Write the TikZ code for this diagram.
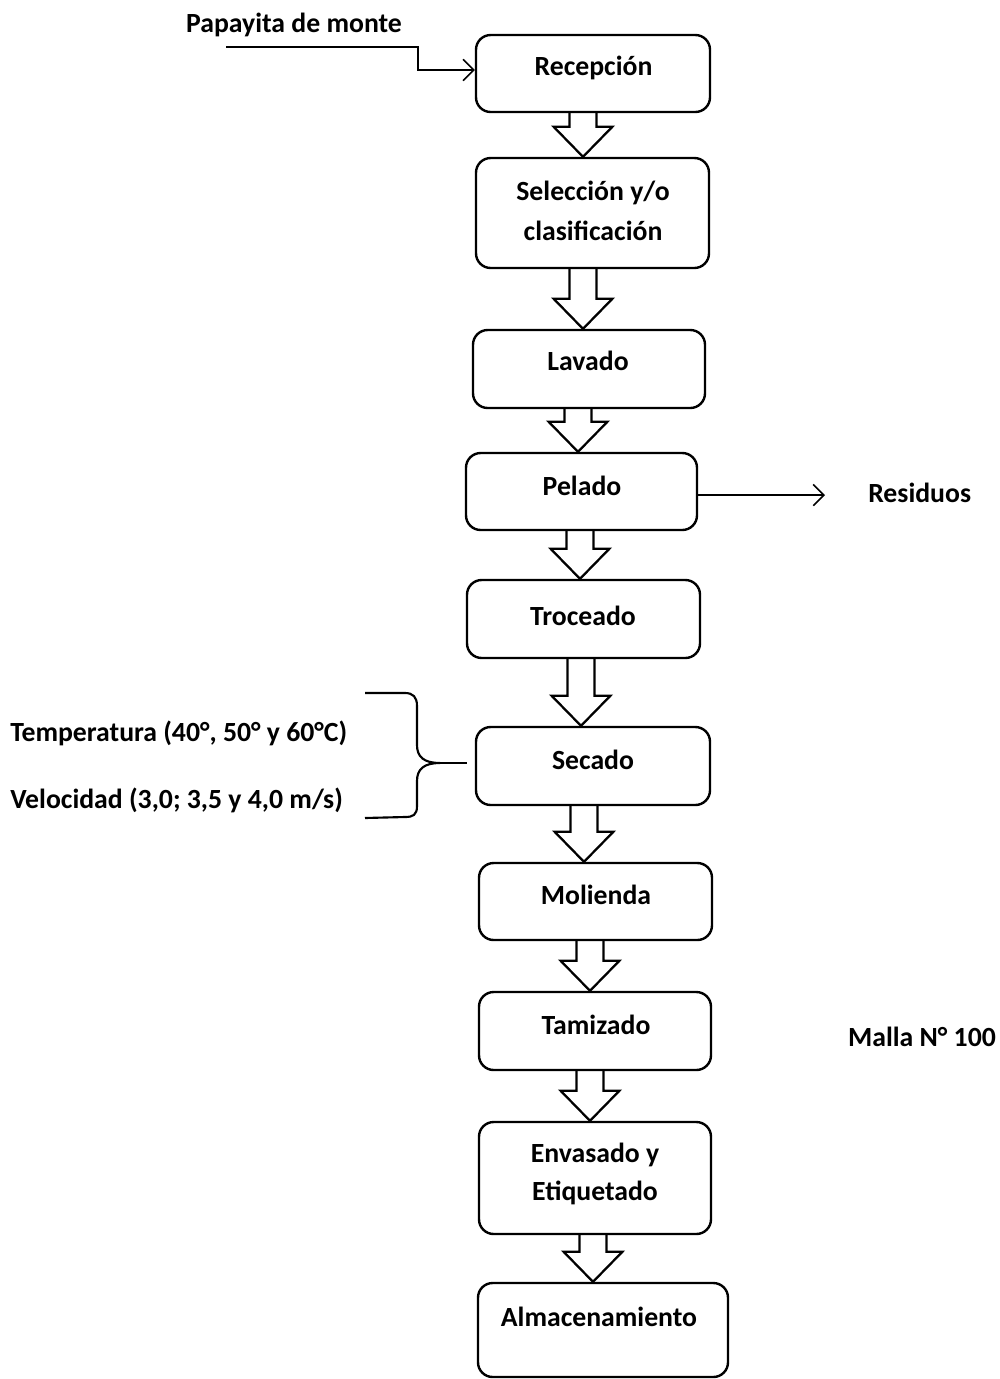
\documentclass[tikz,border=0pt]{standalone}
\usepackage{fontspec}
\setmainfont{Carlito}
\usetikzlibrary{arrows.meta,calc}
\tikzset{
  box/.style={draw, line width=1.8pt, rounded corners=11pt, inner sep=0pt},
  lbl/.style={font=\fontsize{20.8pt}{30pt}\selectfont\bfseries, align=center, inner sep=0pt},
  thinarr/.style={line width=1.2pt, -{Straight Barb[length=8pt,width=16pt,line width=1.2pt]}},
  blockarr/.style={line width=1.7pt, line join=miter},
  bracestyle/.style={line width=1.6pt}
}
\newcommand\procbox[5]{\node[box, minimum width=#4*0.75pt, minimum height=#5*0.75pt] (#1) at (#2,#3) {};}
\newcommand\flowarrow[3]{\draw[blockarr] let \p1=(#1.south), \p2=(#2.north), \p3=(#3,0) in
  (\x3-10.2pt,\y1) -- (\x3-10.2pt,\y2+22.5pt) -- (\x3-22pt,\y2+22.5pt) -- (\x3,\y2)
  -- (\x3+22pt,\y2+22.5pt) -- (\x3+10.2pt,\y2+22.5pt) -- (\x3+10.2pt,\y1);}
\begin{document}
\begin{tikzpicture}[x=0.75pt,y=-0.75pt]
\useasboundingbox (0,0) rectangle (1000,1379);
% boxes
\procbox{rec}{593}{73.5}{234}{77}
\procbox{sel}{592.5}{213}{233}{110}
\procbox{lav}{589}{369}{232}{78}
\procbox{pel}{581.5}{491.5}{231}{77}
\procbox{tro}{583.5}{619}{233}{78}
\procbox{sec}{593}{766}{234}{78}
\procbox{mol}{595.5}{901.5}{233}{77}
\procbox{tam}{595}{1031}{232}{78}
\procbox{env}{595}{1178}{232}{112}
\procbox{alm}{603}{1330}{250}{94}
% box texts
\node[lbl] (rec-t) at (593.5,68) {Recepción};
\node[lbl] (sel-t) at (593,211) {Selección y/o\\clasificación};
\node[lbl] (lav-t) at (588,361) {Lavado};
\node[lbl] (pel-t) at (582,486) {Pelado};
\node[lbl] (tro-t) at (583,616) {Troceado};
\node[lbl] (sec-t) at (593,760) {Secado};
\node[lbl] (mol-t) at (596,895) {Molienda};
\node[lbl] (tam-t) at (596,1025) {Tamizado};
\node[lbl, font=\fontsize{20.8pt}{28.5pt}\selectfont\bfseries] (env-t) at (595,1174) {Envasado y\\Etiquetado};
\node[lbl] (alm-t) at (599,1317) {Almacenamiento};
% block arrows
\flowarrow{rec}{sel}{583}
\flowarrow{sel}{lav}{583}
\flowarrow{lav}{pel}{578}
\flowarrow{pel}{tro}{580}
\flowarrow{tro}{sec}{581}
\flowarrow{sec}{mol}{584}
\flowarrow{mol}{tam}{590}
\flowarrow{tam}{env}{590}
\flowarrow{env}{alm}{593}
% input
\node[lbl] (pap) at (294,25) {Papayita de monte};
\coordinate (pstart) at (226,47);
\coordinate (pbend) at (418,70);
\draw[thinarr] (pstart) -| (pbend) -- (pbend -| rec.west);
% residues
\node[lbl, anchor=west] (res) at (868,493) {Residuos};
\coordinate (resend) at (825,495);
\draw[thinarr] (pel.east |- resend) -- (resend);
% sieve
\node[lbl] (mal) at (922,1037) {Malla N° 100};
% drying conditions
\node[lbl, anchor=west] (temp) at (10,733) {Temperatura (40°, 50° y 60°C)};
\node[lbl, anchor=west] (vel) at (10,800) {Velocidad (3,0; 3,5 y 4,0 m/s)};
\draw[bracestyle] (365,693) -- (405,693) .. controls (413,693) and (417,697) .. (417,706)
  -- (417,745) .. controls (417,757) and (424,763) .. (440,763)
  .. controls (424,763) and (417,769) .. (417,781)
  -- (417,806) .. controls (417,815) and (413,817) .. (405,817) -- (365,818);
\draw[bracestyle] (440,763) -- (467,763);
\end{tikzpicture}
\end{document}
